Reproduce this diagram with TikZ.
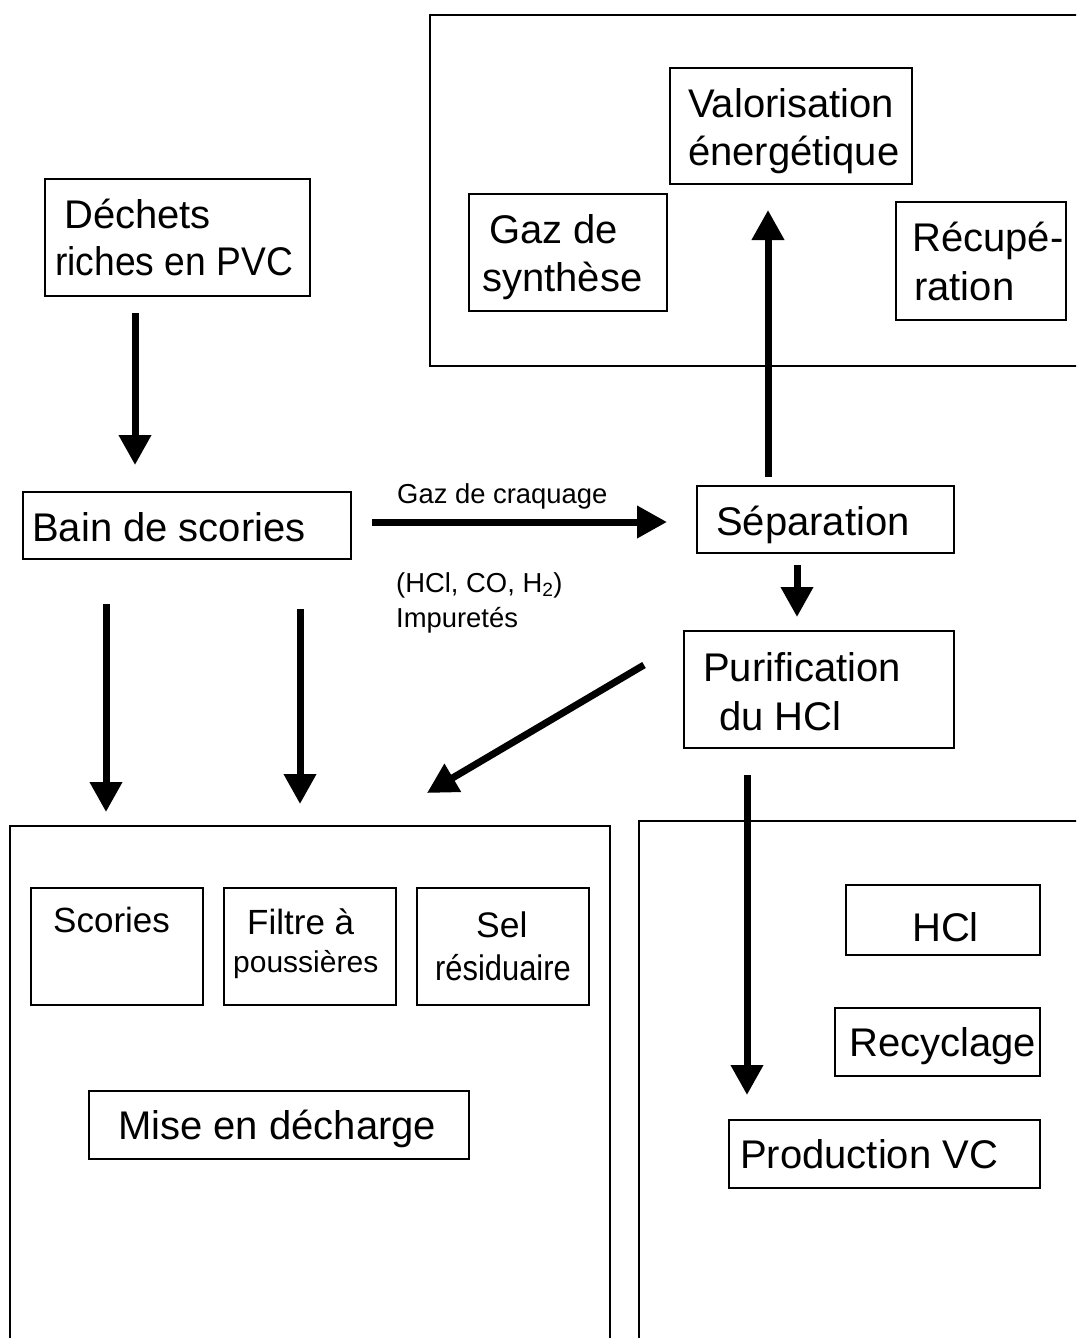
\documentclass[tikz,border=0pt]{standalone}
\usepackage{fontspec}
\usepackage{graphicx}
\setmainfont{Liberation Sans}
\usetikzlibrary{arrows.meta}
\begin{document}
\begin{tikzpicture}[x=1pt,y=-1pt,
  box/.style={draw,line width=1.6pt,rectangle,inner sep=0pt,outer sep=0pt,anchor=north west},
  frame/.style={box,line width=1.6pt},
  big/.style={inner sep=0pt,anchor=base west,font=\fontsize{40}{48}\selectfont},
  mid/.style={inner sep=0pt,anchor=base west,font=\fontsize{35}{42}\selectfont},
  small/.style={inner sep=0pt,anchor=base west,font=\fontsize{27.4}{33}\selectfont},
  arr/.style={line width=7pt,-{Triangle[width=31pt,length=30pt]}}]
\useasboundingbox[fill=white] (0,0) rectangle (1076,1338);
\clip (0,0) rectangle (1076,1338);

% frames
\node[frame,minimum width=700pt,minimum height=351pt] (topframe) at (430,15) {};
\node[frame,minimum width=600pt,minimum height=600pt] (leftframe) at (10,826) {};
\node[frame,minimum width=500pt,minimum height=600pt] (rightframe) at (639,821) {};

% boxes
\node[box,minimum width=242pt,minimum height=116pt] (valo) at (670,68) {};
\node[box,minimum width=198pt,minimum height=117pt] (gaz) at (469,194) {};
\node[box,minimum width=170pt,minimum height=118pt] (recup) at (896,202) {};
\node[box,minimum width=265pt,minimum height=117pt] (dechets) at (45,179) {};
\node[box,minimum width=328pt,minimum height=67pt] (bain) at (23,492) {};
\node[box,minimum width=257pt,minimum height=67pt] (sep) at (697,486) {};
\node[box,minimum width=270pt,minimum height=117pt] (purif) at (684,631) {};
\node[box,minimum width=172pt,minimum height=117pt] (scories) at (31,888) {};
\node[box,minimum width=172pt,minimum height=117pt] (filtre) at (224,888) {};
\node[box,minimum width=172pt,minimum height=117pt] (sel) at (417,888) {};
\node[box,minimum width=380pt,minimum height=68pt] (mise) at (89,1091) {};
\node[box,minimum width=194pt,minimum height=70pt] (hcl) at (846,885) {};
\node[box,minimum width=205pt,minimum height=68pt] (recy) at (835,1008) {};
\node[box,minimum width=311pt,minimum height=68pt] (prod) at (729,1120) {};

% texts
\node[big] (t1) at (688,117) {Valorisation};
\node[big] (t2) at (688,165) {énergétique};
\node[big] (t3) at (489,243) {Gaz de};
\node[big] (t4) at (482,291) {synthèse};
\node[big] (t5) at (912,251) {Récupé-};
\node[big] (t6) at (914,300) {ration};
\node[big] (t7) at (64,228) {Déchets};
\node[big] (t8) at (55,275) {\scalebox{0.93}[1]{riches en PVC}};
\node[big] (t9) at (32,541) {Bain de scories};
\node[big] (t10) at (716,535) {Séparation};
\node[big] (t11) at (703,681) {Purification};
\node[big] (t12) at (719,730) {du HCl};
\node[small] (t13) at (397,503) {Gaz de craquage};
\node[small] (t14) at (396,592) {(HCl, CO, H\textsubscript{2})};
\node[small] (t15) at (396,627) {Impuretés};
\node[mid] (t16) at (53,932) {Scories};
\node[mid] (t17) at (247,934) {Filtre à};
\node[inner sep=0pt,anchor=base west,font=\fontsize{30}{36}\selectfont] (t18) at (233,972) {poussières};
\node[inner sep=0pt,anchor=base west,font=\fontsize{35.5}{44}\selectfont] (t19) at (476,937) {Sel};
\node[inner sep=0pt,anchor=base west,font=\fontsize{35.5}{42}\selectfont] (t20) at (435,980) {\scalebox{0.87}[1]{résiduaire}};
\node[big] (t21) at (118,1139) {Mise en décharge};
\node[big] (t22) at (912,941) {HCl};
\node[big] (t23) at (849,1056) {Recyclage};
\node[big] (t24) at (740,1168) {Production VC};

% arrow end points
\coordinate (a1s) at (135,313); \coordinate (a1e) at (135,465);
\coordinate (a2s) at (372,522); \coordinate (a2e) at (667,522);
\coordinate (a3s) at (768,477); \coordinate (a3e) at (768,210);
\coordinate (a4s) at (797,565); \coordinate (a4e) at (797,617);
\coordinate (a5s) at (644,665); \coordinate (a5e) at (427,793);
\coordinate (a6s) at (106,604); \coordinate (a6e) at (106,812);
\coordinate (a7s) at (300,609); \coordinate (a7e) at (300,804);
\coordinate (a8s) at (747,775); \coordinate (a8e) at (747,1095);

\draw[arr] (a1s) -- (a1e);
\draw[arr] (a2s) -- (a2e);
\draw[arr] (a3s) -- (a3e);
\draw[arr] (a4s) -- (a4e);
\draw[arr] (a5s) -- (a5e);
\draw[arr] (a6s) -- (a6e);
\draw[arr] (a7s) -- (a7e);
\draw[arr] (a8s) -- (a8e);
\end{tikzpicture}
\end{document}
